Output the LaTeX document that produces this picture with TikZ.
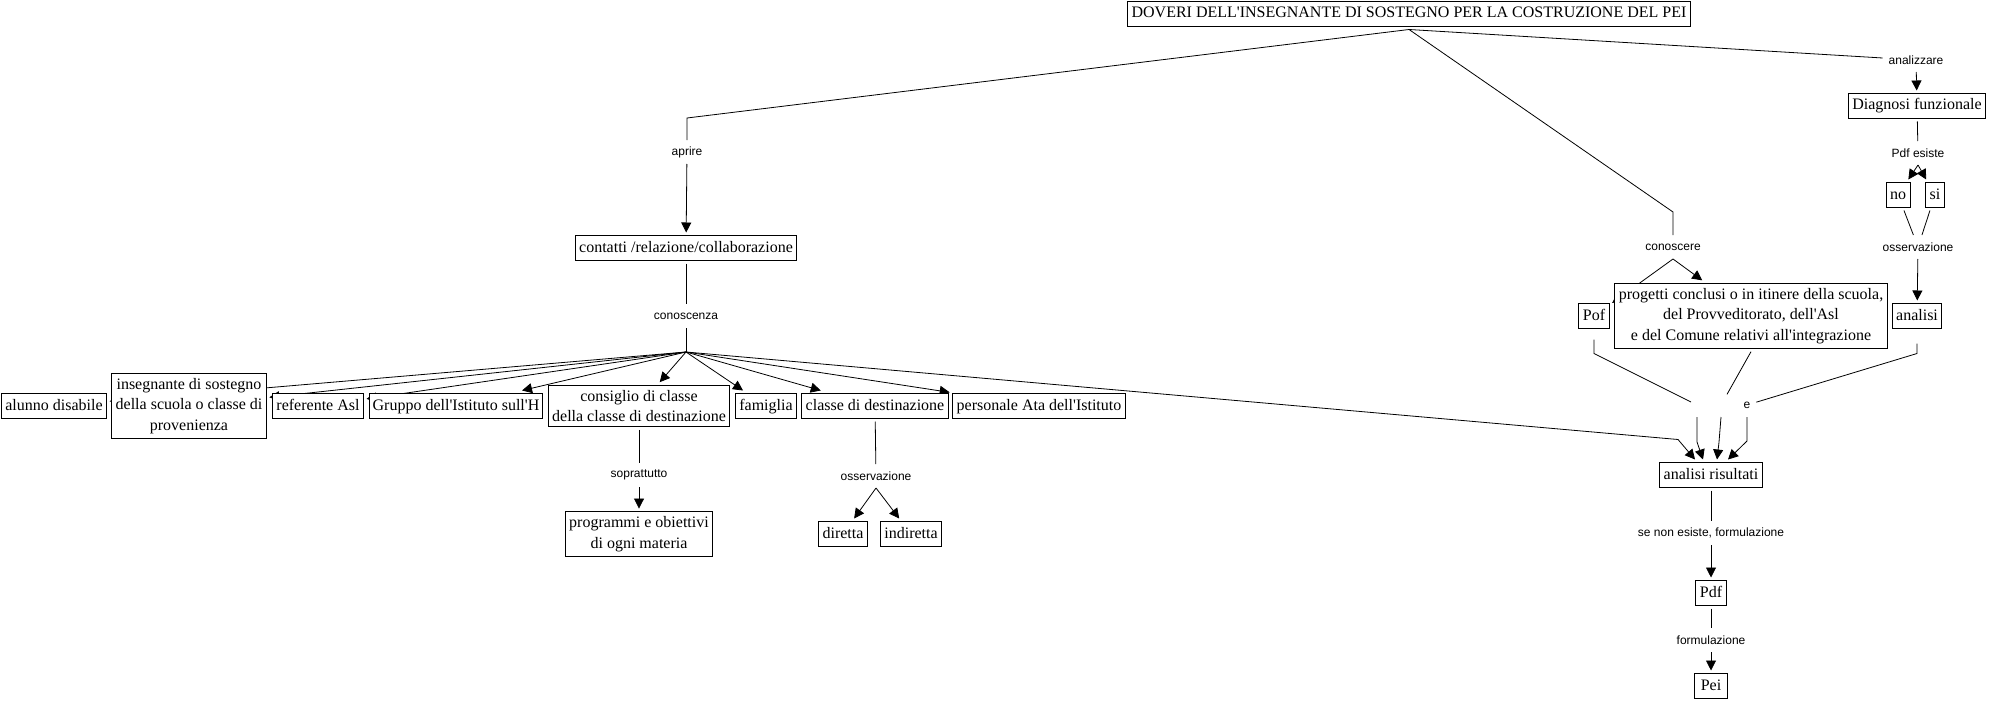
\documentclass[tikz,border=0pt]{standalone}
\usepackage{fontspec}
\setmainfont{Liberation Serif}
\newfontfamily\phrasefont{Liberation Sans}
\usetikzlibrary{arrows.meta,backgrounds}

\begin{document}
\begin{tikzpicture}[x=0.5pt, y=-0.5pt, line width=0.5pt,
    >={Triangle[length=5pt,width=5pt]},
    concept/.style={rectangle, draw, fill=white, font=\fontsize{8}{10.25}\selectfont, inner xsep=2pt, inner ysep=2.45pt, outer sep=1.5pt, text height=5.8pt, text depth=1.8pt},
    concepts/.style={rectangle, draw, fill=white, font=\fontsize{8}{10.25}\selectfont, inner xsep=2pt, inner ysep=2.45pt, outer sep=1.5pt, align=center},
    phrase/.style={font=\phrasefont\fontsize{6}{7}\selectfont, inner xsep=3pt, inner ysep=0pt, minimum height=12pt, outer sep=0pt}]
    \useasboundingbox (0,0) rectangle (1990,701);

    \node (root) [concept] at (1409,14) {DOVERI DELL\textquotesingle INSEGNANTE DI SOSTEGNO PER LA COSTRUZIONE DEL PEI};

    \node (aprire) [phrase] at (687,152) {aprire};
    \node (contatti) [concept] at (686,248) {contatti /relazione/collaborazione};
    \node (conoscenza) [phrase] at (686,316) {conoscenza};
    \coordinate (fan) at (686,352);
    \node (alunno) [concept] at (54,406) {alunno disabile};
    \node (insegnante) [concepts] at (189,406) {insegnante di sostegno\\della scuola o classe di\\provenienza};
    \node (referente) [concept] at (318,406) {referente Asl};
    \node (gruppo) [concept, inner xsep=1.5pt] at (456,406) {Gruppo dell\textquotesingle Istituto sull\textquotesingle H};
    \node (consiglio) [concepts] at (639,406) {consiglio di classe\\della classe di destinazione};
    \node (famiglia) [concept] at (766,406) {famiglia};
    \node (classe) [concept] at (875,406) {classe di destinazione};
    \node (personale) [concept] at (1039,406) {personale Ata dell\textquotesingle Istituto};
    \node (soprattutto) [phrase] at (639,475) {soprattutto};
    \node (programmi) [concepts] at (639,534) {programmi e obiettivi\\di ogni materia};
    \node (osservazioneA) [phrase] at (876,476) {osservazione};
    \node (diretta) [concept] at (843,534) {diretta};
    \node (indiretta) [concept] at (911,534) {indiretta};

    \node (analizzare) [phrase] at (1916,60) {analizzare};
    \node (diagnosi) [concept] at (1917,106) {Diagnosi funzionale};
    \node (pdfesiste) [phrase] at (1918,153) {Pdf esiste};
    \node (no) [concept] at (1898,195) {no};
    \node (si) [concept] at (1935,195) {si};
    \node (osservazioneB) [phrase] at (1918,247) {osservazione};
    \node (analisi) [concept] at (1917,316) {analisi};
    \node (conoscere) [phrase] at (1673,247) {conoscere};
    \node (pof) [concept] at (1594,316) {Pof};
    \node (progetti) [concepts] at (1751,316) {progetti conclusi o in itinere della scuola,\\del Provveditorato, dell\textquotesingle Asl\\e del Comune relativi all\textquotesingle integrazione};
    \node (vuotoA) [phrase] at (1697,405) {};
    \node (vuotoB) [phrase] at (1721,405) {};
    \node (e) [phrase] at (1747,405) {e};
    \node (risultati) [concept] at (1711,475) {analisi risultati};
    \node (senon) [phrase] at (1711,533) {se non esiste, formulazione};
    \node (pdf) [concept] at (1711,593) {Pdf};
    \node (formulazione) [phrase] at (1711,640) {formulazione};
    \node (pei) [concept, minimum width=16.5pt] at (1711,686) {Pei};

    \begin{pgfonlayer}{background}
    \draw (root.south) -- ([yshift=11pt]aprire.north) -- (aprire.north);
    \draw [->] (aprire) -- (contatti);
    \draw (contatti) -- (conoscenza);
    \draw (conoscenza) -- (fan);
    \draw [->] (fan) -- (alunno);
    \draw [->] (fan) -- (insegnante);
    \draw [->] (fan) -- (referente);
    \draw [->] (fan) -- (gruppo);
    \draw [->] (fan) -- (consiglio);
    \draw [->] (fan) -- (famiglia);
    \draw [->] (fan) -- (classe);
    \draw [->] (fan) -- (personale);
    \draw [->] (fan) -- ([xshift=-16.5pt,yshift=10pt]risultati.north) -- ([xshift=-8pt]risultati.north);
    \draw (consiglio) -- (soprattutto);
    \draw [->] (soprattutto) -- (programmi);
    \draw (classe) -- (osservazioneA);
    \draw [->] (osservazioneA.south) -- (diretta);
    \draw [->] (osservazioneA.south) -- (indiretta);

    \draw (root.south) -- (analizzare);
    \draw [->] (analizzare) -- (diagnosi);
    \draw (diagnosi) -- (pdfesiste);
    \draw [->] (pdfesiste.south) -- (no);
    \draw [->] (pdfesiste.south) -- (si);
    \draw (no) -- (osservazioneB);
    \draw (si) -- (osservazioneB);
    \draw [->] (osservazioneB) -- (analisi);
    \draw (root.south) -- ([yshift=11.5pt]conoscere.north) -- (conoscere.north);
    \draw [->] (conoscere.south) -- (pof);
    \draw [->] (conoscere.south) -- (progetti);
    \draw ([yshift=-4pt]pof.south) -- ([yshift=-11pt]pof.south) -- (vuotoA);
    \draw (progetti.south) -- (vuotoB);
    \draw ([yshift=-6pt]analisi.south) -- ([yshift=-11pt]analisi.south) -- (e);
    \draw [->] (vuotoA.south) -- ++(0,25) -- ([xshift=-4pt]risultati.north);
    \draw [->] (vuotoB.south) -- ++(-2,25) -- ([xshift=3pt]risultati.north);
    \draw [->] (e.south) -- ++(0,24) -- ([xshift=8.5pt]risultati.north);
    \draw (risultati) -- (senon);
    \draw [->] (senon) -- (pdf);
    \draw (pdf) -- (formulazione);
    \draw [->] (formulazione) -- (pei);
    \end{pgfonlayer}
\end{tikzpicture}
\end{document}
